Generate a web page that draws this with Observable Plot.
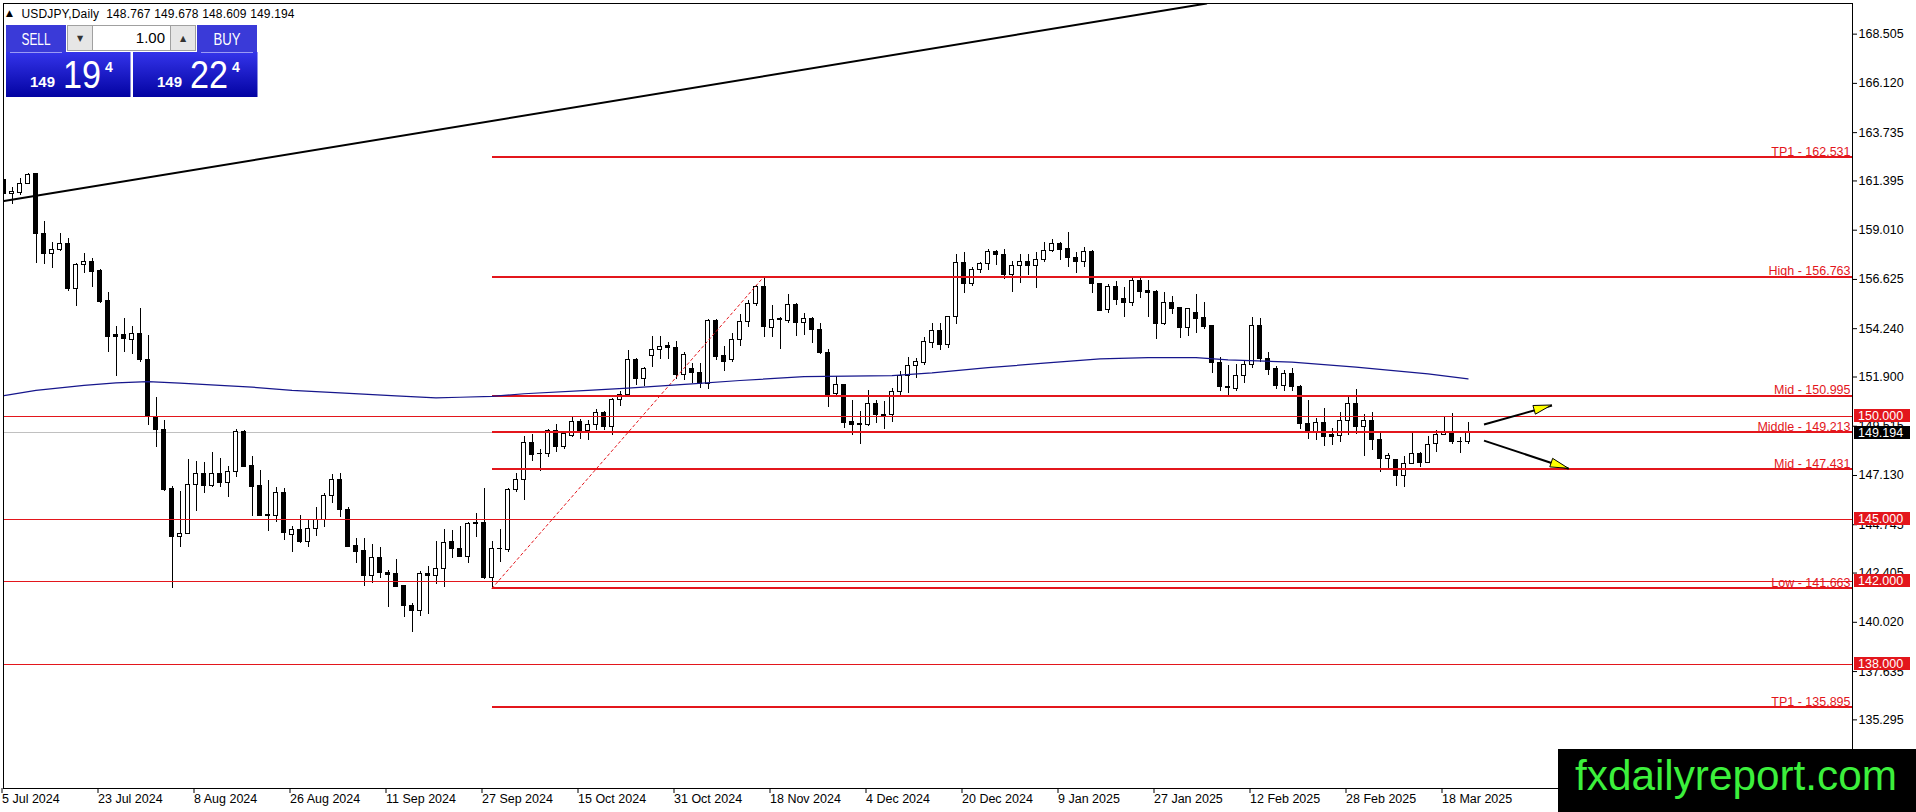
<!DOCTYPE html>
<html><head><meta charset="utf-8">
<script src="https://cdn.jsdelivr.net/npm/d3@7"></script>
<script src="https://cdn.jsdelivr.net/npm/@observablehq/plot@0.6"></script>
<style>
html,body{margin:0;padding:0;background:#fff;}
#chart{position:relative;width:1916px;height:812px;overflow:hidden;}
</style></head><body><div id="chart"></div>
<script>
// ---------- data ----------
const symbolLabel = "USDJPY,Daily";
const headerOHLC = [148.767, 149.678, 148.609, 149.194];
const bid = 149.194, ask = 149.224;
const lotSize = "1.00";

const open = [
161.42,160.74,160.81,161.26,161.71,158.84,157.85,158.04,158.35,156.17,
157.33,157.49,157.01,155.56,153.93,153.93,153.70,153.99,152.73,149.95,
149.34,146.49,144.14,144.31,146.65,147.21,146.60,147.18,146.78,147.29,
149.23,147.61,146.60,145.24,145.16,146.29,144.26,144.51,143.90,144.53,
144.98,146.15,146.92,145.48,143.73,143.45,142.25,143.14,142.43,142.34,
141.80,140.83,140.56,142.37,142.25,142.61,143.93,143.58,143.17,144.76,
144.82,142.17,143.58,143.50,146.44,146.92,148.71,148.19,148.18,149.27,
148.50,149.02,149.74,149.27,149.59,150.17,149.47,150.80,151.01,152.73,
151.81,152.93,153.22,153.38,153.32,152.01,152.30,152.10,151.57,154.60,
152.94,152.73,153.70,154.55,155.45,156.28,154.28,154.67,154.60,155.41,
154.53,154.72,154.20,153.07,151.09,151.52,149.71,149.60,149.59,150.60,
150.08,150.04,151.16,151.97,152.42,152.57,153.57,154.15,153.46,154.80,
157.43,156.41,157.09,157.35,157.96,157.83,156.85,157.27,157.49,157.29,
157.58,157.99,158.32,158.11,157.65,157.46,157.94,156.41,155.16,156.28,
155.67,155.49,156.53,156.05,156.04,154.48,155.49,155.23,154.28,155.01,
154.75,154.35,152.60,151.44,151.30,151.94,152.49,154.39,152.75,152.30,
151.45,152.05,151.44,149.63,149.23,149.68,149.07,149.02,149.79,150.60,
149.47,149.79,148.86,147.94,147.86,147.10,147.70,148.18,147.73,148.67,
149.10,149.18,148.74,148.767];
const high = [
161.47,161.09,161.50,161.77,161.74,159.43,158.43,158.84,158.59,157.38,
157.87,157.62,157.09,155.98,154.35,154.73,154.36,155.23,153.93,150.91,
149.79,146.60,146.36,147.90,147.81,147.77,148.23,147.97,147.57,149.34,
149.31,148.05,147.37,146.89,146.53,146.49,144.66,145.19,145.01,145.56,
146.24,147.18,147.21,145.59,144.06,144.06,143.77,143.66,142.53,143.05,
141.82,140.95,142.49,142.72,143.95,144.51,144.47,144.66,144.87,145.28,
146.49,143.93,144.50,146.49,147.21,149.03,149.12,148.37,149.34,149.60,
149.27,149.95,149.84,149.78,150.33,150.24,150.85,151.20,153.18,152.81,
152.35,153.86,153.86,153.59,153.62,153.07,152.54,152.54,154.67,154.70,
153.38,153.99,154.93,155.60,156.33,156.763,155.36,154.80,155.90,155.45,
154.99,154.76,154.48,153.22,151.94,151.56,150.76,150.23,151.25,150.76,
150.71,151.33,152.17,152.86,152.81,153.80,154.48,154.48,154.83,157.82,
157.92,157.22,157.43,158.06,158.03,158.06,157.51,157.82,157.82,157.93,
158.40,158.56,158.40,158.88,157.94,158.19,158.03,156.44,156.38,156.54,
156.22,156.70,156.69,156.57,156.08,155.98,155.80,155.28,155.23,155.88,
155.49,154.39,152.86,152.46,152.49,152.70,154.80,154.72,153.10,152.41,
152.21,152.30,151.48,150.76,149.88,150.36,149.42,150.17,150.97,151.30,
150.08,150.18,149.23,148.18,147.90,148.06,149.20,148.22,149.02,149.31,
149.95,150.12,148.98,149.678];
const low = [
160.74,160.24,160.70,161.21,157.41,157.35,157.17,157.99,156.05,155.33,
156.93,156.25,155.45,153.09,151.94,153.09,152.99,152.60,149.55,148.50,
146.37,141.68,143.63,144.26,145.40,146.24,146.56,146.56,146.05,147.05,
147.50,145.14,145.15,144.43,144.84,143.98,143.42,143.86,143.66,144.19,
144.63,145.76,145.11,143.62,142.85,141.75,141.91,142.16,140.72,141.70,
140.27,139.54,140.30,140.40,141.85,141.72,143.12,143.14,142.88,144.11,
142.08,141.663,142.93,143.42,146.29,145.92,147.82,147.34,147.99,148.26,
148.37,148.98,148.86,148.82,149.31,149.31,149.07,150.49,150.98,151.49,
151.44,152.38,152.73,152.75,151.76,151.73,151.57,151.33,151.28,152.70,
152.17,152.60,153.38,154.31,155.31,153.83,153.83,153.25,154.50,153.86,
153.91,153.54,152.97,150.44,150.92,149.42,149.07,148.62,149.52,149.63,
149.34,149.68,150.92,151.09,151.81,152.46,153.30,153.18,153.30,154.43,
155.93,156.30,156.90,157.06,157.30,156.62,156.01,156.41,156.82,156.20,
157.46,157.94,157.54,157.22,156.90,157.19,155.93,155.09,154.96,155.36,
154.77,155.31,155.72,154.80,153.70,154.39,154.91,153.78,153.87,154.02,
154.19,152.09,151.21,150.96,151.21,151.60,152.33,152.62,151.97,151.30,
151.21,151.21,149.36,148.86,148.82,148.53,148.58,148.74,149.07,149.12,
148.06,148.34,147.29,147.46,146.60,146.53,147.66,147.50,147.70,148.26,
149.07,148.63,148.18,148.609];
const close = [
160.77,160.84,161.26,161.67,158.84,157.87,158.06,158.35,156.15,157.33,
157.49,156.98,155.52,153.83,153.83,153.73,153.99,152.70,149.99,149.34,
146.44,144.14,144.31,146.65,147.21,146.60,147.18,146.76,147.29,149.23,
147.53,146.56,145.19,145.18,146.29,144.34,144.51,143.90,144.55,144.98,
146.16,146.92,145.47,143.69,143.43,142.24,143.14,142.40,142.30,141.75,
140.80,140.56,142.37,142.25,142.61,143.87,143.55,143.17,144.76,144.82,
142.16,143.58,143.55,146.45,146.92,148.71,148.13,148.15,149.27,148.50,
149.12,149.74,149.27,149.59,150.17,149.47,150.80,151.01,152.73,151.81,
152.30,153.22,153.34,153.32,152.01,152.97,152.08,151.57,154.60,152.89,
152.62,153.70,154.55,155.45,156.25,154.31,154.64,154.70,155.40,154.50,
154.72,154.19,153.05,151.05,151.52,149.68,149.59,149.57,150.60,150.07,
150.00,151.16,151.97,152.42,152.62,153.59,154.12,153.46,154.80,157.43,
156.41,157.09,157.35,157.94,157.82,156.82,157.30,157.46,157.27,157.58,
157.99,158.32,158.06,157.65,157.46,157.94,156.41,155.12,156.28,155.64,
155.49,156.53,156.01,155.99,154.48,155.49,155.18,154.28,155.20,154.72,
154.31,152.57,151.41,151.38,151.94,152.49,154.36,152.75,152.26,151.45,
152.05,151.41,149.60,149.23,149.68,148.98,148.98,149.79,150.60,149.47,
149.79,148.86,147.94,148.05,147.10,147.70,148.18,147.73,148.62,149.10,
149.18,148.74,148.77,149.194];

const dateTickBars = [0,12,24,36,48,60,72,84,96,108,120,132,144,156,168,180];
const dateTickLabels = ["5 Jul 2024","23 Jul 2024","8 Aug 2024","26 Aug 2024","11 Sep 2024","27 Sep 2024","15 Oct 2024","31 Oct 2024","18 Nov 2024","4 Dec 2024","20 Dec 2024","9 Jan 2025","27 Jan 2025","12 Feb 2025","28 Feb 2025","18 Mar 2025"];
const yTickValues = [168.505,166.120,163.735,161.395,159.010,156.625,154.240,151.900,149.515,147.130,144.745,142.405,140.020,137.635,135.295];

const maBars   = [0,4,10,14,18,22,27,31,36,42,49,54,57,61,65,73,78,86,92,100,111,116,123,130,137,143,149,153,161,169,178,183];
const maValues = [151.00,151.25,151.49,151.62,151.68,151.60,151.49,151.41,151.25,151.13,150.99,150.89,150.92,150.96,151.09,151.25,151.36,151.57,151.73,151.92,151.97,152.10,152.35,152.57,152.78,152.84,152.84,152.73,152.62,152.38,152.05,151.81];

const trendAnchorBars = [0, 52];
const trendAnchorPrices = [160.42, 163.73];

const fibStartBar = 61;
const fibLevels = [162.531,156.763,150.995,149.213,147.431,141.663,135.895];
const fibNames  = ["TP1","High","Mid","Middle","Mid","Low","TP1"];
const fibDiagBars = [61, 95];
const fibDiagPrices = [141.663, 156.763];

const hLineLevels = [150.000, 145.000, 142.000, 138.000];

const arrowFromBars = [185, 185];
const arrowFromPrices = [149.60, 148.82];
const arrowToBars = [193.5, 195.6];
const arrowToPrices = [150.52, 147.455];

const watermarkText = "fxdailyreport.com";

// ---------- build ----------
const RED = "#e3161c";
const MA_COLOR = "#16168c";
const W = 1916, H = 812;
const xDomain = [0, 231];
const yDomain = [131.971, 169.989];

const bars = open.map((o, i) => ({i, o, h: high[i], l: low[i], c: close[i]}));
const bull = bars.filter(d => d.c >= d.o);
const bear = bars.filter(d => d.c < d.o);
const fib = fibLevels.map((v, k) => ({v, label: `${fibNames[k]} - ${v.toFixed(3)}`}));
const fibDiag = fibDiagBars.map((b, k) => ({bar: b, p: fibDiagPrices[k]}));
const ma = maBars.map((b, k) => ({bar: b, v: maValues[k]}));
const slope = (trendAnchorPrices[1] - trendAnchorPrices[0]) / (trendAnchorBars[1] - trendAnchorBars[0]);
const trendEndBar = trendAnchorBars[0] + (yDomain[1] - trendAnchorPrices[0]) / slope;
const trend = [
  {bar: trendAnchorBars[0], p: trendAnchorPrices[0]},
  {bar: trendEndBar, p: trendAnchorPrices[0] + slope * (trendEndBar - trendAnchorBars[0])}
];
const arrows = arrowFromBars.map((b, k) => ({x1: b, y1: arrowFromPrices[k], x2: arrowToBars[k], y2: arrowToPrices[k]}));

const chart = Plot.plot({
  width: W, height: H,
  marginLeft: 3, marginRight: 64, marginTop: 3, marginBottom: 24,
  x: {domain: xDomain, range: [3.5, 1851.5]},
  y: {domain: yDomain, range: [788, 3]},
  style: {fontFamily: "'Liberation Sans', Arial, sans-serif", fontSize: "12.5px", background: "#fff", color: "#000", overflow: "visible"},
  marks: [
    Plot.ruleY([bid], {stroke: "#c0c0c0", shapeRendering: "crispEdges"}),
    Plot.ruleX(bars, {x: "i", y1: "l", y2: "h", stroke: "#000", strokeWidth: 1, shapeRendering: "crispEdges", clip: true}),
    Plot.rect(bull, {x1: d => d.i - 0.25, x2: d => d.i + 0.25, y1: "o", y2: "c", fill: "#fff", stroke: "#000", shapeRendering: "crispEdges", clip: true}),
    Plot.rect(bear, {x1: d => d.i - 0.25, x2: d => d.i + 0.25, y1: "o", y2: "c", fill: "#000", stroke: "#000", shapeRendering: "crispEdges", clip: true}),
    Plot.ruleY(hLineLevels, {stroke: RED, strokeWidth: 1, shapeRendering: "crispEdges"}),
    Plot.ruleY(fib, {y: "v", x1: () => fibStartBar, x2: () => xDomain[1], stroke: RED, strokeWidth: 2, shapeRendering: "crispEdges"}),
    Plot.text(fib, {y: "v", text: "label", frameAnchor: "right", textAnchor: "end", dx: -2, dy: -5.5, fill: RED}),
    Plot.line(fibDiag, {x: "bar", y: "p", stroke: RED, strokeWidth: 1, strokeDasharray: "2.5,3"}),
    Plot.line(ma, {x: "bar", y: "v", stroke: MA_COLOR, strokeWidth: 1.2}),
    Plot.line(trend, {x: "bar", y: "p", stroke: "#000", strokeWidth: 2, clip: true}),
    Plot.link(arrows, {x1: "x1", y1: "y1", x2: "x2", y2: "y2", stroke: "#000", strokeWidth: 2}),
    Plot.frame({stroke: "#000"}),
    Plot.axisY(yTickValues, {anchor: "right", tickSize: 4, tickPadding: 2, tickFormat: d => d.toFixed(3), label: null}),
    Plot.axisX(dateTickBars, {anchor: "bottom", tickSize: 5, tickPadding: 1, tickFormat: d => dateTickLabels[dateTickBars.indexOf(d)], textAnchor: "start", dx: -2, label: null})
  ]
});
document.getElementById("chart").appendChild(chart);

// ---------- overlays drawn with the chart's scales ----------
const sx = chart.scale("x"), sy = chart.scale("y");
const X = v => sx.apply(v), Y = v => sy.apply(v);
const svg = d3.select(chart);
const frameRight = W - 64;
const ov = svg.append("g").attr("text-anchor", "start");

// arrow heads
arrows.forEach(a => {
  const x1 = X(a.x1), y1 = Y(a.y1), x2 = X(a.x2), y2 = Y(a.y2);
  const dx = x2 - x1, dy = y2 - y1, len = Math.hypot(dx, dy), ux = dx / len, uy = dy / len;
  const L = 18, w = 4.5, bx = x2 - ux * L, by = y2 - uy * L;
  ov.append("polygon")
    .attr("points", [[x2, y2], [bx - uy * w, by + ux * w], [bx + uy * w, by - ux * w]].map(p => p.join(",")).join(" "))
    .attr("fill", "#ffff00").attr("stroke", "#000").attr("stroke-width", 1);
});

// price boxes on the axis
const boxes = hLineLevels.map(v => ({v, fill: RED})).concat([{v: bid, fill: "#000"}]);
boxes.forEach(b => {
  const y = Y(b.v);
  ov.append("rect").attr("x", frameRight + 2).attr("y", Math.round(y - 6.5)).attr("width", 56).attr("height", 13).attr("fill", b.fill);
  ov.append("text").attr("x", frameRight + 6).attr("y", y).attr("dy", "0.35em").attr("text-anchor", "start").attr("fill", "#fff").text(b.v.toFixed(3));
});

// header
ov.append("text").attr("x", 6).attr("y", 16).attr("text-anchor", "start").attr("font-family", "'DejaVu Sans'").attr("font-size", 9).attr("fill", "#000").text("▲");
ov.append("text").attr("x", 21.5).attr("y", 17.5).attr("text-anchor", "start").attr("font-size", 12).attr("fill", "#000")
  .attr("xml:space", "preserve").attr("textLength", 273).attr("lengthAdjust", "spacing")
  .text(`${symbolLabel}  ${headerOHLC.map(v => v.toFixed(3)).join(" ")}`);

// one-click trading panel
const defs = svg.append("defs");
const grad = defs.append("linearGradient").attr("id", "pg").attr("x1", 0).attr("y1", 0).attr("x2", 0).attr("y2", 1);
grad.append("stop").attr("offset", "0%").attr("stop-color", "#3434ea");
grad.append("stop").attr("offset", "100%").attr("stop-color", "#0303a2");
const pn = ov.append("g");
const priceParts = p => { const s = p.toFixed(3); return [s.slice(0, 3), s.slice(4, 6), s.slice(6)]; };
[[6, 6, "SELL", bid], [133, 197, "BUY", ask]].forEach(([bx, tx, lab, price]) => {
  pn.append("rect").attr("x", tx).attr("y", 25).attr("width", 60).attr("height", 27).attr("fill", "#3a3ad8");
  pn.append("rect").attr("x", bx).attr("y", 52).attr("width", 124.5).attr("height", 45).attr("fill", "url(#pg)");
  pn.append("line").attr("x1", tx + 4).attr("x2", tx + 56).attr("y1", 52.5).attr("y2", 52.5).attr("stroke", "#9a9af5");
  pn.append("text").attr("x", tx + 30).attr("y", 45).attr("text-anchor", "middle").attr("font-size", 16).attr("fill", "#fff")
    .attr("textLength", lab === "SELL" ? 29 : 27).attr("lengthAdjust", "spacingAndGlyphs").text(lab);
  const [a, b, c] = priceParts(price);
  pn.append("text").attr("x", bx + 24).attr("y", 87.3).attr("text-anchor", "start").attr("font-size", 14).attr("font-weight", "bold").attr("fill", "#fff")
    .attr("textLength", 25).attr("lengthAdjust", "spacingAndGlyphs").text(a);
  pn.append("text").attr("x", bx + 57).attr("y", 88.3).attr("text-anchor", "start").attr("font-size", 39).attr("fill", "#fff")
    .attr("textLength", 38).attr("lengthAdjust", "spacingAndGlyphs").text(b);
  pn.append("text").attr("x", bx + 99).attr("y", 71.5).attr("text-anchor", "start").attr("font-size", 14).attr("font-weight", "bold").attr("fill", "#fff").text(c);
});
pn.append("rect").attr("x", 67.5).attr("y", 25.5).attr("width", 128).attr("height", 25).attr("fill", "#fff").attr("stroke", "#a0a0a0");
pn.append("rect").attr("x", 67.5).attr("y", 25.5).attr("width", 25).attr("height", 25).attr("fill", "#e6e6e6").attr("stroke", "#a0a0a0");
pn.append("rect").attr("x", 170.5).attr("y", 25.5).attr("width", 25).attr("height", 25).attr("fill", "#e6e6e6").attr("stroke", "#a0a0a0");
pn.append("text").attr("x", 80).attr("y", 41).attr("text-anchor", "middle").attr("font-family", "'DejaVu Sans'").attr("font-size", 8).attr("fill", "#333").text("▼");
pn.append("text").attr("x", 183).attr("y", 41).attr("text-anchor", "middle").attr("font-family", "'DejaVu Sans'").attr("font-size", 8).attr("fill", "#333").text("▲");
pn.append("text").attr("x", 165).attr("y", 43).attr("text-anchor", "end").attr("font-size", 15).attr("fill", "#000").text(lotSize);

// watermark
ov.append("rect").attr("x", 1558).attr("y", 749).attr("width", 358).attr("height", 63).attr("fill", "#000");
ov.append("text").attr("x", 1575).attr("y", 790).attr("text-anchor", "start").attr("font-size", 42).attr("fill", "#3cf03c")
  .attr("textLength", 322).attr("lengthAdjust", "spacingAndGlyphs").text(watermarkText);
</script>
</body></html>
